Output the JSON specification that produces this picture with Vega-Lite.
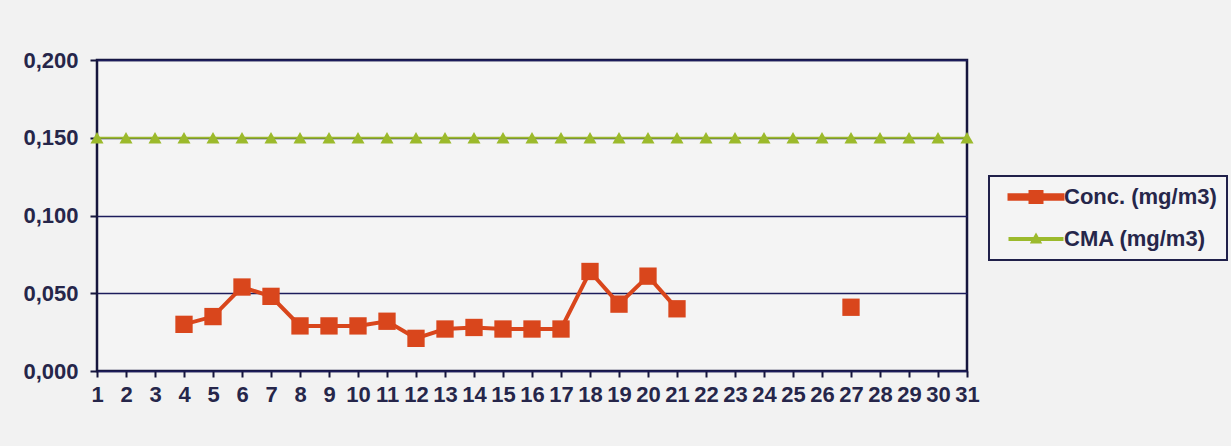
{
  "$schema": "https://vega.github.io/schema/vega-lite/v6.json",
  "autosize": "none",
  "width": 870,
  "height": 311,
  "padding": {"left": 97, "top": 60, "right": 264, "bottom": 75},
  "background": "#f2f2f2",
  "config": {
    "view": {"stroke": "#15153d", "strokeWidth": 2.5, "fill": "#f4f4f4"},
    "font": "Liberation Sans",
    "axis": {"labelFont": "Liberation Sans", "labelFontSize": 22, "labelFontWeight": "bold", "labelColor": "#26264a", "title": null}
  },
  "data": {
    "values": [
      {"day": 1, "series": "CMA (mg/m3)", "value": 0.15},
      {"day": 2, "series": "CMA (mg/m3)", "value": 0.15},
      {"day": 3, "series": "CMA (mg/m3)", "value": 0.15},
      {"day": 4, "series": "CMA (mg/m3)", "value": 0.15},
      {"day": 5, "series": "CMA (mg/m3)", "value": 0.15},
      {"day": 6, "series": "CMA (mg/m3)", "value": 0.15},
      {"day": 7, "series": "CMA (mg/m3)", "value": 0.15},
      {"day": 8, "series": "CMA (mg/m3)", "value": 0.15},
      {"day": 9, "series": "CMA (mg/m3)", "value": 0.15},
      {"day": 10, "series": "CMA (mg/m3)", "value": 0.15},
      {"day": 11, "series": "CMA (mg/m3)", "value": 0.15},
      {"day": 12, "series": "CMA (mg/m3)", "value": 0.15},
      {"day": 13, "series": "CMA (mg/m3)", "value": 0.15},
      {"day": 14, "series": "CMA (mg/m3)", "value": 0.15},
      {"day": 15, "series": "CMA (mg/m3)", "value": 0.15},
      {"day": 16, "series": "CMA (mg/m3)", "value": 0.15},
      {"day": 17, "series": "CMA (mg/m3)", "value": 0.15},
      {"day": 18, "series": "CMA (mg/m3)", "value": 0.15},
      {"day": 19, "series": "CMA (mg/m3)", "value": 0.15},
      {"day": 20, "series": "CMA (mg/m3)", "value": 0.15},
      {"day": 21, "series": "CMA (mg/m3)", "value": 0.15},
      {"day": 22, "series": "CMA (mg/m3)", "value": 0.15},
      {"day": 23, "series": "CMA (mg/m3)", "value": 0.15},
      {"day": 24, "series": "CMA (mg/m3)", "value": 0.15},
      {"day": 25, "series": "CMA (mg/m3)", "value": 0.15},
      {"day": 26, "series": "CMA (mg/m3)", "value": 0.15},
      {"day": 27, "series": "CMA (mg/m3)", "value": 0.15},
      {"day": 28, "series": "CMA (mg/m3)", "value": 0.15},
      {"day": 29, "series": "CMA (mg/m3)", "value": 0.15},
      {"day": 30, "series": "CMA (mg/m3)", "value": 0.15},
      {"day": 31, "series": "CMA (mg/m3)", "value": 0.15},
      {"day": 4, "series": "Conc. (mg/m3)", "value": 0.030},
      {"day": 5, "series": "Conc. (mg/m3)", "value": 0.035},
      {"day": 6, "series": "Conc. (mg/m3)", "value": 0.054},
      {"day": 7, "series": "Conc. (mg/m3)", "value": 0.048},
      {"day": 8, "series": "Conc. (mg/m3)", "value": 0.029},
      {"day": 9, "series": "Conc. (mg/m3)", "value": 0.029},
      {"day": 10, "series": "Conc. (mg/m3)", "value": 0.029},
      {"day": 11, "series": "Conc. (mg/m3)", "value": 0.032},
      {"day": 12, "series": "Conc. (mg/m3)", "value": 0.021},
      {"day": 13, "series": "Conc. (mg/m3)", "value": 0.027},
      {"day": 14, "series": "Conc. (mg/m3)", "value": 0.028},
      {"day": 15, "series": "Conc. (mg/m3)", "value": 0.027},
      {"day": 16, "series": "Conc. (mg/m3)", "value": 0.027},
      {"day": 17, "series": "Conc. (mg/m3)", "value": 0.027},
      {"day": 18, "series": "Conc. (mg/m3)", "value": 0.064},
      {"day": 19, "series": "Conc. (mg/m3)", "value": 0.043},
      {"day": 20, "series": "Conc. (mg/m3)", "value": 0.061},
      {"day": 21, "series": "Conc. (mg/m3)", "value": 0.040},
      {"day": 22, "series": "Conc. (mg/m3)", "value": null},
      {"day": 23, "series": "Conc. (mg/m3)", "value": null},
      {"day": 24, "series": "Conc. (mg/m3)", "value": null},
      {"day": 25, "series": "Conc. (mg/m3)", "value": null},
      {"day": 26, "series": "Conc. (mg/m3)", "value": null},
      {"day": 27, "series": "Conc. (mg/m3)", "value": 0.041}
    ]
  },
  "encoding": {
    "x": {
      "field": "day", "type": "quantitative",
      "scale": {"domain": [1, 31], "nice": false, "zero": false},
      "axis": {
        "values": [1,2,3,4,5,6,7,8,9,10,11,12,13,14,15,16,17,18,19,20,21,22,23,24,25,26,27,28,29,30,31],
        "grid": false, "domain": false, "tickColor": "#15153d", "tickSize": 6, "tickWidth": 2,
        "labelPadding": 7, "labelFlush": false, "labelOverlap": false, "labelBound": false
      }
    },
    "y": {
      "field": "value", "type": "quantitative",
      "scale": {"domain": [0, 0.2], "nice": false},
      "axis": {
        "values": [0, 0.05, 0.1, 0.15, 0.2],
        "labelExpr": "replace(format(datum.value, '.3f'), '.', ',')",
        "grid": true, "gridColor": "#1c1c5c", "gridWidth": 1.5, "gridOpacity": 1,
        "domain": false, "tickColor": "#15153d", "tickSize": 7, "tickWidth": 2,
        "labelPadding": 12, "labelFlush": false
      }
    },
    "color": {
      "field": "series", "type": "nominal",
      "scale": {"domain": ["Conc. (mg/m3)", "CMA (mg/m3)"], "range": ["#d9461c", "#9cba2c"]},
      "legend": {
        "title": null, "orient": "none", "legendX": 892, "legendY": 116,
        "padding": 10, "rowPadding": 18, "symbolOffset": 26, "labelOffset": 17,
        "symbolSize": 100, "labelFont": "Liberation Sans", "labelFontSize": 22, "labelFontWeight": "bold", "labelColor": "#26264a",
        "strokeColor": "#20204a", "fillColor": "#f4f4f4", "labelLimit": 300,
        "encode": {
          "legend": {"update": {"strokeWidth": {"value": 2}}},
          "symbols": {
            "update": {
              "shape": {"signal": "datum.value === 'Conc. (mg/m3)' ? 'M-5.3,-0.35H5.3V0.35H-5.3Z M-1.1,-1H1.1V1H-1.1Z' : 'M-5.3,-0.2H5.3V0.2H-5.3Z M0,-0.9L0.9,0.7H-0.9Z'"},
              "fill": {"signal": "datum.value === 'Conc. (mg/m3)' ? '#d9461c' : '#9cba2c'"},
              "fillOpacity": {"value": 1},
              "strokeWidth": {"value": 0}
            }
          }
        }
      }
    }
  },
  "layer": [
    {
      "mark": {"type": "line", "invalid": "break-paths-filter-domains"},
      "encoding": {
        "strokeWidth": {
          "field": "series", "type": "nominal",
          "scale": {"domain": ["Conc. (mg/m3)", "CMA (mg/m3)"], "range": [4, 2]},
          "legend": null
        }
      }
    },
    {
      "transform": [{"filter": "datum.series === 'Conc. (mg/m3)'"}],
      "mark": {"type": "point", "filled": true, "opacity": 1, "shape": "square", "size": 300}
    },
    {
      "transform": [{"filter": "datum.series === 'CMA (mg/m3)'"}],
      "mark": {"type": "point", "filled": true, "opacity": 1, "shape": "triangle-up", "size": 170}
    }
  ]
}
